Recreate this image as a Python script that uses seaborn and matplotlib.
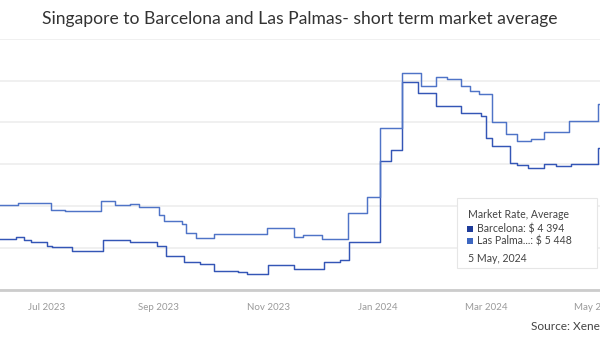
import matplotlib
matplotlib.use("Agg")
import matplotlib.pyplot as plt
import matplotlib.dates as mdates
from matplotlib.patches import Rectangle
import seaborn as sns
import pandas as pd

# Weekly market averages (USD per FEU), dated at each rate change
barcelona_dates = [
    "2023-06-01", "2023-06-14", "2023-06-18", "2023-06-22", "2023-07-01", "2023-07-04",
    "2023-07-15", "2023-08-01", "2023-08-16", "2023-08-31", "2023-09-05", "2023-09-15",
    "2023-09-24", "2023-10-02", "2023-10-15", "2023-10-20", "2023-11-01", "2023-11-15",
    "2023-12-02", "2023-12-11", "2023-12-16", "2024-01-02", "2024-01-08", "2024-01-14",
    "2024-01-23", "2024-02-02", "2024-02-16", "2024-02-27", "2024-03-01", "2024-03-04",
    "2024-03-14", "2024-03-18", "2024-03-24", "2024-04-02", "2024-04-09", "2024-04-17",
    "2024-05-02", "2024-05-12",
]
barcelona_rates = [
    2210, 2260, 2200, 2140, 2060, 2020,
    1940, 2200, 2140, 2040, 1800, 1660,
    1620, 1460, 1440, 1390, 1600, 1500,
    1660, 1720, 2140, 4070, 4330, 5970,
    5710, 5390, 5230, 5150, 4630, 4430,
    4030, 3990, 3900, 4010, 3950, 4010,
    4394, 4394,
]

las_palmas_dates = [
    "2023-06-01", "2023-06-15", "2023-07-03", "2023-07-11", "2023-07-31", "2023-08-08",
    "2023-08-16", "2023-08-21", "2023-09-01", "2023-09-04", "2023-09-14", "2023-09-16",
    "2023-09-22", "2023-10-02", "2023-10-31", "2023-11-15", "2023-11-20", "2023-12-01",
    "2023-12-15", "2023-12-26", "2024-01-02", "2024-01-14", "2024-01-25", "2024-02-02",
    "2024-02-08", "2024-02-16", "2024-02-21", "2024-02-26", "2024-03-04", "2024-03-12",
    "2024-03-18", "2024-03-26", "2024-04-02", "2024-04-16", "2024-05-02", "2024-05-12",
]
las_palmas_rates = [
    3020, 3070, 2920, 2880, 3130, 3020,
    3060, 2970, 2780, 2640, 2580, 2360,
    2230, 2330, 2480, 2260, 2320, 2210,
    2840, 3230, 4870, 6170, 5870, 6080,
    6030, 5870, 5760, 5670, 5010, 4720,
    4550, 4610, 4770, 5030, 5448, 5448,
]

tick_dates = ["2023-07-01", "2023-09-01", "2023-11-01", "2024-01-01", "2024-03-01", "2024-05-01"]
tick_labels = ["Jul 2023", "Sep 2023", "Nov 2023", "Jan 2024", "Mar 2024", "May 2024"]
y_ticks = [1000, 2000, 3000, 4000, 5000, 6000, 7000]

title = "Singapore to Barcelona and Las Palmas- short term market average"
tooltip_heading = "Market Rate, Average"
tooltip_day = pd.Timestamp("2024-05-05")
source_text = "Source: Xeneta"

colors = {"Barcelona": "#3456b6", "Las Palmas": "#4f74c7"}
marker_colors = {"Barcelona": "#1f3c9a", "Las Palmas": "#3d67c1"}

df = pd.concat([
    pd.DataFrame({"date": pd.to_datetime(barcelona_dates), "rate": barcelona_rates, "lane": "Barcelona"}),
    pd.DataFrame({"date": pd.to_datetime(las_palmas_dates), "rate": las_palmas_rates, "lane": "Las Palmas"}),
], ignore_index=True)

sns.set_theme(style="white")
plt.rcParams["font.family"] = ["Lato", "DejaVu Sans"]

W, H = 600, 340
fig = plt.figure(figsize=(W / 100, H / 100), dpi=100)


def fx(px):
    return px / W


def fy(py):
    return 1 - py / H


# plot area: 1000 at the axis line, 7000 at the top rule
ax = fig.add_axes([0, fy(290), 1, fy(38.6) - fy(290)])

sns.lineplot(
    data=df, x="date", y="rate", hue="lane", palette=colors,
    estimator=None, drawstyle="steps-post", linewidth=1.05,
    legend=False, ax=ax, zorder=3,
)

base = mdates.date2num(pd.Timestamp("2023-07-01"))
ax.set_xlim(base - 26.1, base + 307.2)
ax.set_ylim(y_ticks[0], y_ticks[-1])

ax.set_yticks(y_ticks)
ax.yaxis.grid(True, color="#eeeeee", linewidth=1.2)
ax.xaxis.grid(False)
ax.tick_params(axis="y", left=False, labelleft=False)

ax.set_xticks(mdates.date2num(pd.to_datetime(tick_dates)))
ax.set_xticklabels(tick_labels)
ax.tick_params(axis="x", length=0, pad=9, labelsize=7, labelcolor="#9a9a9a")
ax.set_xlabel("")
ax.set_ylabel("")

for side in ("top", "left", "right"):
    ax.spines[side].set_visible(False)
ax.spines["bottom"].set_color("#cccccc")
ax.spines["bottom"].set_linewidth(2)

fig.text(0.5, fy(19), title, ha="center", va="center", fontsize=12.6, color="#333333")
fig.text(fx(531), fy(327), source_text, ha="left", va="center", fontsize=8.6, color="#444444")

# hover tooltip for 5 May 2024
fig.add_artist(Rectangle((fx(457), fy(268)), fx(140), fy(198) - fy(268),
                         transform=fig.transFigure, facecolor="white",
                         edgecolor="#e6e6e6", linewidth=0.8, zorder=5))
fig.text(fx(468), fy(214), tooltip_heading, ha="left", va="center",
         fontsize=7.6, color="#444444", zorder=6)

rows = []
for lane, dates, rates in (("Barcelona", barcelona_dates, barcelona_rates),
                           ("Las Palmas", las_palmas_dates, las_palmas_rates)):
    s = pd.Series(rates, index=pd.to_datetime(dates))
    value = s[s.index <= tooltip_day].iloc[-1]
    rows.append((lane, value))

for i, (lane, value) in enumerate(rows):
    yc = 229 + i * 12
    fig.add_artist(Rectangle((fx(467), fy(yc + 3)), fx(6), fy(yc - 3) - fy(yc + 3),
                             transform=fig.transFigure, facecolor=marker_colors[lane],
                             edgecolor="none", zorder=6))
    name = "Las Palma..." if lane == "Las Palmas" else lane
    amount = f"{int(round(value)):,}".replace(",", " ")
    fig.text(fx(477), fy(yc), f"{name}: $ {amount}", ha="left", va="center",
             fontsize=7.6, color="#444444", zorder=6)

fig.text(fx(468), fy(258), f"{tooltip_day.day} {tooltip_day:%B}, {tooltip_day.year}",
         ha="left", va="center", fontsize=7.6, color="#444444", zorder=6)

fig.savefig("out.png", dpi=100)
